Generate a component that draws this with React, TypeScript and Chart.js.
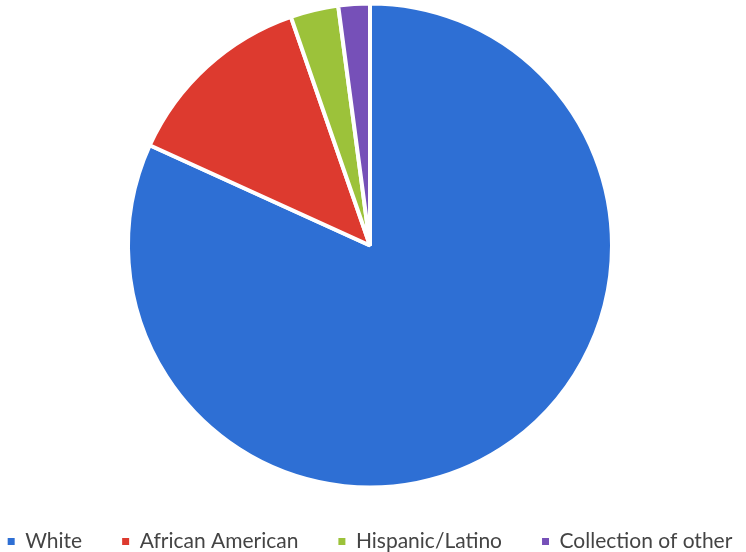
import React, { useEffect, useRef } from "react";
import { Chart, registerables } from "chart.js";

Chart.register(...registerables);

const categories = ["White", "African American", "Hispanic/Latino", "Collection of other"];
const shares = [81.8, 12.9, 3.2, 2.1];
const colors = ["#2e6fd4", "#dd3a2f", "#9cc23a", "#7650b8"];

const CANVAS_W = 840;
const PIE_CENTER_X = 370;

export default function App() {
  const ref = useRef<HTMLCanvasElement | null>(null);
  useEffect(() => {
    if (!ref.current) return;
    const chart = new Chart(ref.current, {
      type: "pie",
      data: {
        labels: categories,
        datasets: [
          {
            data: shares,
            backgroundColor: colors,
            borderColor: "#ffffff",
            borderWidth: 4,
            radius: 242,
          } as any,
        ],
      },
      options: {
        responsive: false,
        animation: false,
        layout: { padding: { top: 0, bottom: -10, left: 0, right: 0 } },
        plugins: {
          tooltip: { enabled: false },
          legend: {
            position: "bottom",
            labels: {
              boxWidth: 7,
              boxHeight: 7,
              padding: 40,
              color: "#444444",
              font: { family: "Lato", size: 21 },
              generateLabels: (c: any) =>
                (Chart as any).overrides.pie.plugins.legend.labels
                  .generateLabels(c)
                  .map((l: any) => ({ ...l, lineWidth: 0, strokeStyle: "rgba(0,0,0,0)" })),
            },
          },
        },
      },
    });
    return () => chart.destroy();
  }, []);
  return (
    <div
      style={{
        position: "fixed",
        left: 0,
        top: 0,
        width: 746,
        height: 552,
        background: "#fff",
        overflow: "hidden",
      }}
    >
      <canvas
        ref={ref}
        width={CANVAS_W}
        height={552}
        style={{ display: "block", position: "absolute", top: 0, left: PIE_CENTER_X - CANVAS_W / 2 }}
      />
    </div>
  );
}
